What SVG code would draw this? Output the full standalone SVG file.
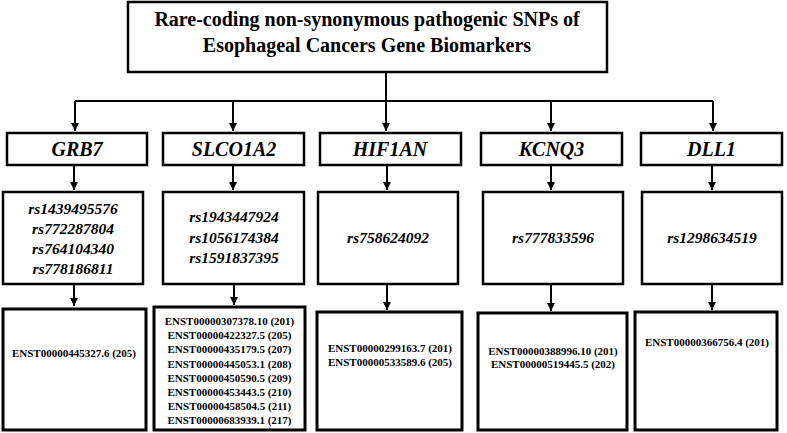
<svg xmlns="http://www.w3.org/2000/svg" width="787" height="433" viewBox="0 0 787 433">
<style>
.box{fill:#fff;stroke:#000;stroke-width:2.5}
.ebox{fill:#fff;stroke:#000;stroke-width:3}
.ln{fill:none;stroke:#000;stroke-width:2}
.title{font-family:"Liberation Serif","Times New Roman",serif;font-weight:bold;font-size:20px;text-anchor:middle}
.gene{font-family:"Liberation Serif","Times New Roman",serif;font-weight:bold;font-style:italic;font-size:20px;text-anchor:middle}
.snp{font-family:"Liberation Serif","Times New Roman",serif;font-weight:bold;font-style:italic;font-size:15.5px;text-anchor:middle}
.enst{font-family:"Liberation Serif","Times New Roman",serif;font-weight:bold;font-size:11px;text-anchor:middle}
</style>
<defs>
<marker id="ah" markerUnits="userSpaceOnUse" markerWidth="10" markerHeight="10" viewBox="0 0 10 10" refX="5" refY="9" orient="auto-start-reverse">
<path d="M1,1 L9,1 L5,9 Z" fill="#000" transform="rotate(-90 5 5)"/>
</marker>
<marker id="arr" markerUnits="userSpaceOnUse" markerWidth="10" markerHeight="10" viewBox="0 0 10 10" refX="9" refY="5" orient="auto">
<path d="M1,1 L9,5 L1,9 Z" fill="#000"/>
</marker>
</defs>

<g id="connectors">
<path class="ln" d="M386,72 V101"/>
<path class="ln" d="M75,101 H713"/>
<path class="ln" d="M75,101 V131" marker-end="url(#arr)"/>
<path class="ln" d="M233,101 V131" marker-end="url(#arr)"/>
<path class="ln" d="M386,101 V131" marker-end="url(#arr)"/>
<path class="ln" d="M551,101 V131" marker-end="url(#arr)"/>
<path class="ln" d="M713,101 V131" marker-end="url(#arr)"/>
<path class="ln" d="M74,165 V190" marker-end="url(#arr)"/>
<path class="ln" d="M233,165 V190" marker-end="url(#arr)"/>
<path class="ln" d="M387,165 V190" marker-end="url(#arr)"/>
<path class="ln" d="M551,165 V190" marker-end="url(#arr)"/>
<path class="ln" d="M712,165 V190" marker-end="url(#arr)"/>
<path class="ln" d="M74,284 V306" marker-end="url(#arr)"/>
<path class="ln" d="M234,284 V305" marker-end="url(#arr)"/>
<path class="ln" d="M387,284 V310" marker-end="url(#arr)"/>
<path class="ln" d="M551,284 V311" marker-end="url(#arr)"/>
<path class="ln" d="M712,284 V310" marker-end="url(#arr)"/>
</g>

<g id="title">
<rect class="box" x="128" y="2" width="479" height="70"/>
<text class="title" x="367" y="26">Rare-coding non-synonymous pathogenic SNPs of</text>
<text class="title" x="367" y="52">Esophageal Cancers Gene Biomarkers</text>
</g>

<g id="gene-GRB7">
<rect class="box" x="7" y="133" width="140" height="32"/>
<text class="gene" x="77" y="156">GRB7</text>
</g>
<g id="gene-SLCO1A2">
<rect class="box" x="163" y="133" width="141" height="32"/>
<text class="gene" x="234" y="156">SLCO1A2</text>
</g>
<g id="gene-HIF1AN">
<rect class="box" x="320" y="133" width="141" height="32"/>
<text class="gene" x="390" y="156">HIF1AN</text>
</g>
<g id="gene-KCNQ3">
<rect class="box" x="481" y="133" width="141" height="32"/>
<text class="gene" x="551.5" y="156">KCNQ3</text>
</g>
<g id="gene-DLL1">
<rect class="box" x="641" y="133" width="141" height="32"/>
<text class="gene" x="711.5" y="156">DLL1</text>
</g>

<g id="snp-GRB7">
<rect class="box" x="3" y="192" width="140" height="92"/>
<text class="snp" x="73" y="214">rs1439495576</text>
<text class="snp" x="73" y="234">rs772287804</text>
<text class="snp" x="73" y="254">rs764104340</text>
<text class="snp" x="73" y="274">rs778186811</text>
</g>
<g id="snp-SLCO1A2">
<rect class="box" x="163" y="192" width="141" height="92"/>
<text class="snp" x="234" y="222">rs1943447924</text>
<text class="snp" x="234" y="242.5">rs1056174384</text>
<text class="snp" x="234" y="263">rs1591837395</text>
</g>
<g id="snp-HIF1AN">
<rect class="box" x="318" y="192" width="140" height="92"/>
<text class="snp" x="388" y="243">rs758624092</text>
</g>
<g id="snp-KCNQ3">
<rect class="box" x="483" y="192" width="140" height="92"/>
<text class="snp" x="553" y="243">rs777833596</text>
</g>
<g id="snp-DLL1">
<rect class="box" x="642" y="192" width="140" height="92"/>
<text class="snp" x="712" y="243">rs1298634519</text>
</g>

<g id="enst-GRB7">
<rect class="ebox" x="3" y="309" width="143" height="121"/>
<text class="enst" x="74" y="357">ENST00000445327.6 (205)</text>
</g>
<g id="enst-SLCO1A2">
<rect class="ebox" x="154" y="307" width="151" height="123"/>
<text class="enst" x="229.5" y="325">ENST00000307378.10 (201)</text>
<text class="enst" x="229.5" y="339.2">ENST00000422327.5 (205)</text>
<text class="enst" x="229.5" y="353.4">ENST00000435179.5 (207)</text>
<text class="enst" x="229.5" y="367.6">ENST00000445053.1 (208)</text>
<text class="enst" x="229.5" y="381.8">ENST00000450590.5 (209)</text>
<text class="enst" x="229.5" y="396">ENST00000453443.5 (210)</text>
<text class="enst" x="229.5" y="410.2">ENST00000458504.5 (211)</text>
<text class="enst" x="229.5" y="424.4">ENST00000683939.1 (217)</text>
</g>
<g id="enst-HIF1AN">
<rect class="ebox" x="317" y="312" width="145" height="118"/>
<text class="enst" x="390" y="352">ENST00000299163.7 (201)</text>
<text class="enst" x="390" y="365.5">ENST00000533589.6 (205)</text>
</g>
<g id="enst-KCNQ3">
<rect class="ebox" x="478" y="313" width="149" height="117"/>
<text class="enst" x="553" y="355">ENST00000388996.10 (201)</text>
<text class="enst" x="553" y="368">ENST00000519445.5 (202)</text>
</g>
<g id="enst-DLL1">
<rect class="ebox" x="635" y="312" width="142" height="118"/>
<text class="enst" x="707" y="346">ENST00000366756.4 (201)</text>
</g>
</svg>
